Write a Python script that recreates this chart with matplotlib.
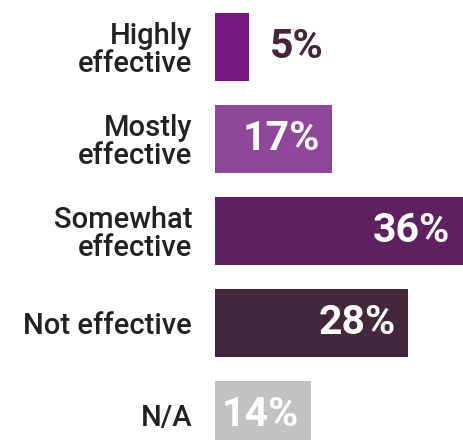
import matplotlib.pyplot as plt

plt.rcParams['font.family'] = ['Roboto', 'DejaVu Sans']

categories = ['Highly\neffective', 'Mostly\neffective', 'Somewhat\neffective',
              'Not effective', 'N/A']
shares = [5, 17, 36, 28, 14]
bar_colors = ['#751a7f', '#8e4799', '#5e2160', '#44263d', '#c0c2c4']

fig = plt.figure(figsize=(4.63, 4.40), dpi=100)
ax = fig.add_axes([215 / 463, -21 / 440, 248 / 463, 460 / 440])

ypos = list(range(len(categories)))
ax.barh(ypos, shares, height=0.73, color=bar_colors)
ax.set_xlim(0, 36)
ax.set_ylim(4.5, -0.5)

ax.set_yticks(ypos)
ax.set_yticklabels(categories, fontsize=21, fontweight='medium',
                   color='#222222', linespacing=1.0)
ax.tick_params(axis='y', length=0, pad=16.5)
ax.set_xticks([])
for side in ax.spines.values():
    side.set_visible(False)

# small bars get their label outside, the rest inside in white
for y, v in zip(ypos, shares):
    if v < 10:
        ax.annotate(f'{v}%', (v, y), xytext=(15, 0), textcoords='offset points',
                    ha='left', va='center', fontsize=29.5, fontweight='bold',
                    color='#45233f')
    else:
        ax.annotate(f'{v}%', (v, y), xytext=(-9, 0), textcoords='offset points',
                    ha='right', va='center', fontsize=29.5, fontweight='bold',
                    color='white')

fig.savefig('out.png', dpi=100)
